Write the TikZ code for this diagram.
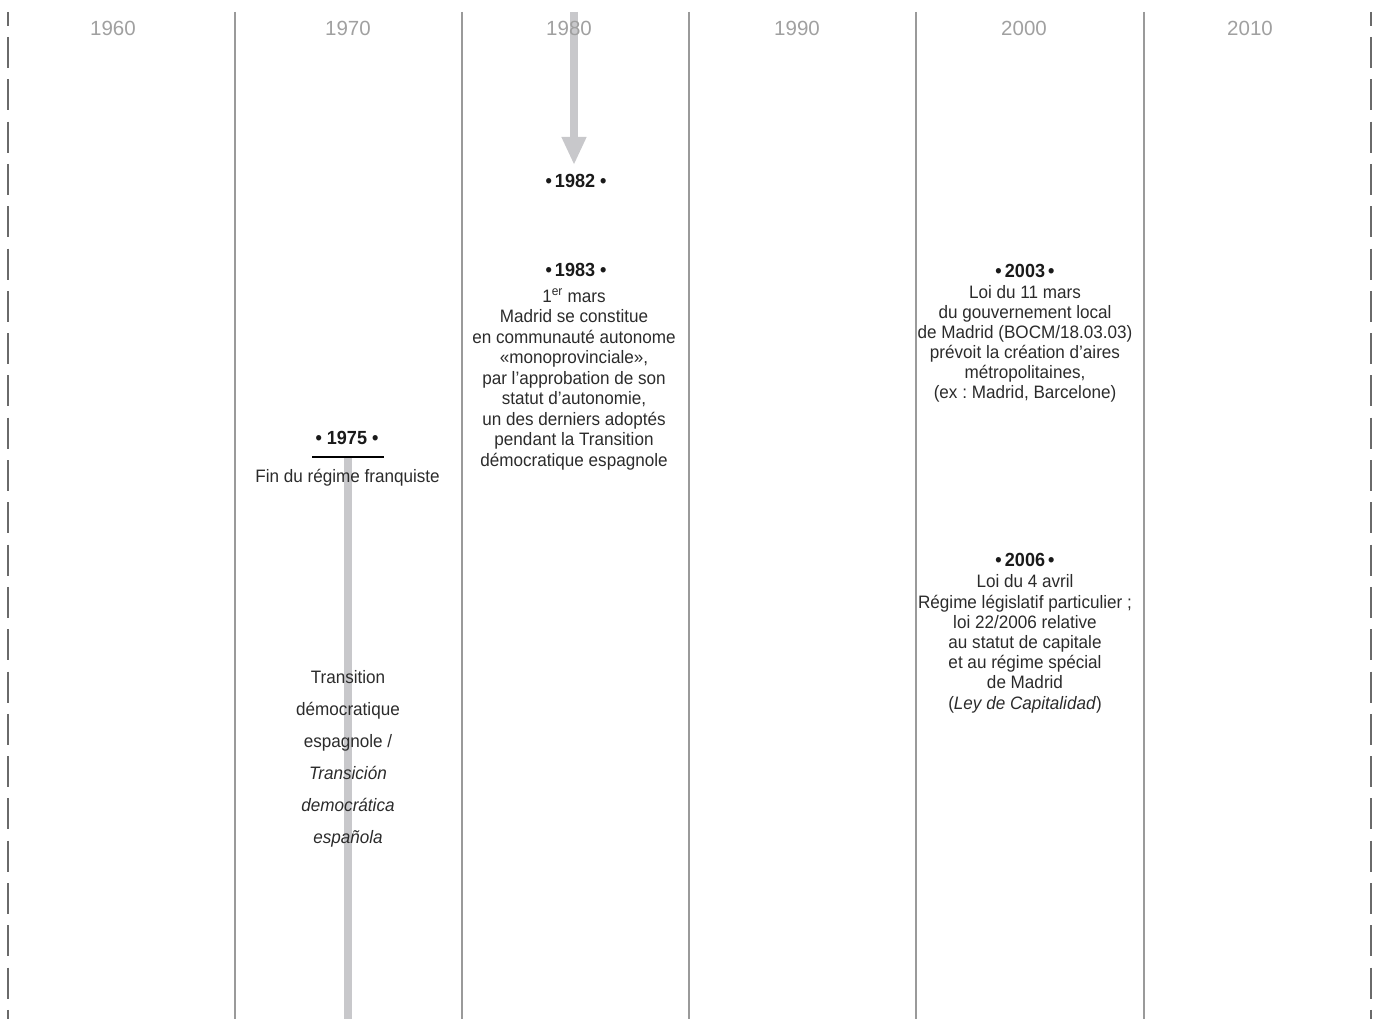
\documentclass[tikz,border=0pt]{standalone}
\usepackage{fontspec}
\setmainfont{Liberation Sans}[FakeStretch=0.95]
\newfontfamily\yearfont{Liberation Sans}
\usetikzlibrary{arrows.meta}
\definecolor{bodytext}{HTML}{2B2B2B}
\definecolor{titletext}{HTML}{1A1A1A}
\definecolor{yeargray}{HTML}{A0A0A0}
\definecolor{gridgray}{HTML}{9A9A9A}
\definecolor{edgegray}{HTML}{6A6A6A}
\definecolor{bargray}{HTML}{C8C8CB}
\frenchspacing
\begin{document}
\begin{tikzpicture}[x=1pt,y=-1pt,
  yearlbl/.style={font=\yearfont\fontsize{20.5}{24}\selectfont, text=yeargray, anchor=base, inner sep=0},
  evtitle/.style={font=\bfseries\fontsize{19}{20}\selectfont, text=titletext, anchor=base, inner sep=0},
  evbody/.style={font=\fontsize{18}{20.3}\selectfont, text=bodytext, anchor=base, align=center, inner sep=0},
  transbody/.style={font=\fontsize{18}{32.1}\selectfont, text=bodytext, anchor=base, align=center, inner sep=0},
  gridline/.style={draw=gridgray, line width=1.3pt},
  edgeline/.style={draw=edgegray, line width=1.2pt, dash pattern=on 31pt off 11.3pt, dash phase=17.3pt},
  greybar/.style={draw=bargray, line width=8.5pt},
  greyarrow/.style={draw=bargray, line width=8pt, -{Triangle[width=23pt,length=28pt]}}]
\useasboundingbox (0,0) rectangle (1375,1019);
% frame coordinates
\foreach \n/\x in {e0/8, g1/235, g2/462, g3/689, g4/916, g5/1144, e6/1371}{
  \coordinate (\n top) at (\x,12);
  \coordinate (\n bot) at (\x,1019);
}
\draw[edgeline] (e0top) -- (e0bot);
\draw[edgeline] (e6top) -- (e6bot);
\foreach \n in {g1,g2,g3,g4,g5}{\draw[gridline] (\n top) -- (\n bot);}
% grey bar of the Transition
\coordinate (barTop) at (348,457);
\coordinate (barBot) at (348,1019);
\draw[greybar] (barTop) -- (barBot);
% grey arrow to 1982
\coordinate (arrTop) at (574,12);
\coordinate (arrTip) at (574,165);
\draw[greyarrow] (arrTop) -- (arrTip);
% decade labels (on top of the arrow)
\node[yearlbl] (y1960) at (113,36) {1960};
\node[yearlbl] (y1970) at (348,36) {1970};
\node[yearlbl] (y1980) at (569,36) {1980};
\node[yearlbl] (y1990) at (797,36) {1990};
\node[yearlbl] (y2000) at (1024,36) {2000};
\node[yearlbl] (y2010) at (1250,36) {2010};
% 1975 (multi-line nodes are placed by the baseline of their last line)
\node[evtitle] (t1975) at (347,444) {• 1975 •};
\coordinate (ulL) at (312,457);
\coordinate (ulR) at (384,457);
\draw[black, line width=2pt] (ulL) -- (ulR);
\node[evbody] (b1975) at (347.5,482) {Fin du régime franquiste};
\node[transbody] (trans) at (348,843.5) {Transition\\démocratique\\espagnole /\\\textit{Transición}\\\textit{democrática}\\\textit{española}};
% 1982
\node[evtitle] (t1982) at (576,187) {•\,1982 •};
% 1983
\node[evtitle] (t1983) at (576,276) {•\,1983 •};
\node[evbody, font=\fontsize{18}{20.5}\selectfont] (b1983) at (574,466) {1\textsuperscript{er} mars\\Madrid se constitue\\en communauté autonome\\«monoprovinciale»,\\par l’approbation de son\\statut d’autonomie,\\un des derniers adoptés\\pendant la Transition\\démocratique espagnole};
% 2003
\node[evtitle] (t2003) at (1025,277) {•\,2003\,•};
\node[evbody, font=\fontsize{18}{20}\selectfont] (b2003) at (1025,398) {Loi du 11 mars\\du gouvernement local\\de Madrid (BOCM/18.03.03)\\prévoit la création d’aires\\métropolitaines,\\(ex : Madrid, Barcelone)};
% 2006
\node[evtitle] (t2006) at (1025,566) {•\,2006\,•};
\node[evbody, font=\fontsize{18}{20.2}\selectfont] (b2006) at (1025,709) {Loi du 4 avril\\Régime législatif particulier ;\\loi 22/2006 relative\\au statut de capitale\\et au régime spécial\\de Madrid\\(\textit{Ley de Capitalidad})};
\end{tikzpicture}
\end{document}
